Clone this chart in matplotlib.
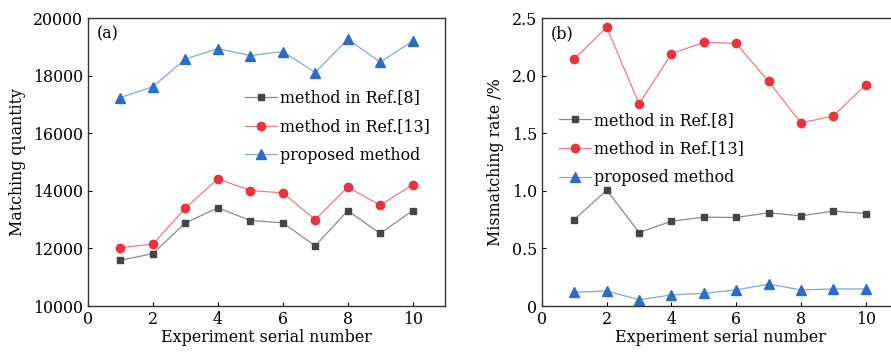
import matplotlib
matplotlib.use("Agg")
import matplotlib.pyplot as plt

# Dados
experimentos = [1, 2, 3, 4, 5, 6, 7, 8, 9, 10]

quant_ref8 = [11590, 11820, 12890, 13410, 12970, 12890, 12090, 13310, 12520, 13310]
quant_ref13 = [12030, 12150, 13400, 14420, 14010, 13930, 13000, 14130, 13500, 14210]
quant_proposto = [17240, 17620, 18580, 18940, 18700, 18840, 18110, 19270, 18470, 19200]

taxa_ref8 = [0.751, 1.006, 0.638, 0.737, 0.771, 0.769, 0.809, 0.783, 0.824, 0.803]
taxa_ref13 = [2.146, 2.42, 1.755, 2.19, 2.29, 2.28, 1.95, 1.59, 1.65, 1.92]
taxa_proposto = [0.12, 0.13, 0.055, 0.096, 0.11, 0.14, 0.19, 0.14, 0.148, 0.148]

rotulos = ["method in Ref.[8]", "method in Ref.[13]", "proposed method"]

plt.rcParams['font.family'] = 'DejaVu Serif'
fs = 11.4

estilos = [
    dict(marker="s", color="#8a8a8a", mfc="#454545", mec="#454545", ms=5),
    dict(marker="o", color="#f07b7f", mfc="#e8343c", mec="#e8343c", ms=6),
    dict(marker="^", color="#7fa8e0", mfc="#2b6cc4", mec="#2b6cc4", ms=6.5),
]

fig = plt.figure(figsize=(8.91, 3.55), dpi=100)
ax1 = fig.add_axes([0.0988, 0.138, 0.4007, 0.811])
ax2 = fig.add_axes([0.6083, 0.138, 0.3996, 0.811])

for ax, series in [(ax1, [quant_ref8, quant_ref13, quant_proposto]),
                   (ax2, [taxa_ref8, taxa_ref13, taxa_proposto])]:
    for y, rot, est in zip(series, rotulos, estilos):
        ax.plot(experimentos, y, lw=0.9, label=rot, **est)
    ax.set_xlim(0, 11)
    ax.set_xticks([0, 2, 4, 6, 8, 10])
    ax.tick_params(direction="in", length=3, width=0.8, labelsize=fs)
    for s in ax.spines.values():
        s.set_linewidth(1.0)
        s.set_color("#333333")
    ax.set_xlabel("Experiment serial number", fontsize=fs, labelpad=1)

ax1.set_ylim(10000, 20000)
ax1.set_yticks([10000, 12000, 14000, 16000, 18000, 20000])
ax1.set_ylabel("Matching quantity", fontsize=fs, labelpad=5)
ax1.text(0.025, 0.975, "(a)", transform=ax1.transAxes, fontsize=fs, va="top")
ax1.legend(loc="upper left", bbox_to_anchor=(0.423, 0.775), frameon=False,
           fontsize=fs, handlelength=2.0, handletextpad=0.2, labelspacing=0.75,
           borderaxespad=0)

ax2.set_ylim(0, 2.5)
ax2.set_yticks([0, 0.5, 1.0, 1.5, 2.0, 2.5])
ax2.set_yticklabels(["0", "0.5", "1.0", "1.5", "2.0", "2.5"])
ax2.set_ylabel("Mismatching rate /%", fontsize=fs, labelpad=6)
ax2.text(0.025, 0.975, "(b)", transform=ax2.transAxes, fontsize=fs, va="top")
ax2.legend(loc="upper left", bbox_to_anchor=(0.031, 0.697), frameon=False,
           fontsize=fs, handlelength=2.0, handletextpad=0.2, labelspacing=0.75,
           borderaxespad=0)

fig.savefig("out.png", dpi=100)
